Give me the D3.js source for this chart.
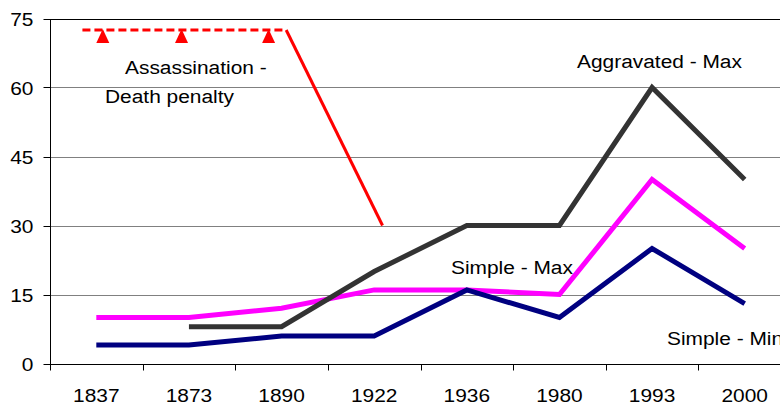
<!DOCTYPE html>
<html>
<head>
<meta charset="utf-8">
<script src="https://cdnjs.cloudflare.com/ajax/libs/d3/7.8.5/d3.min.js"></script>
<style>
  html, body { margin: 0; padding: 0; background: #fff; }
  svg { display: block; }
  text { font-family: "Liberation Sans", Arial, sans-serif; fill: #000; }
</style>
</head>
<body>
<svg id="chart" width="780" height="406"></svg>
<script>
// ---- data ----
const categories = ["1837", "1873", "1890", "1922", "1936", "1980", "1993", "2000"];
const simpleMax = [10, 10, 12, 16, 16, 15, 40, 25];
const simpleMin = [4, 4, 6, 6, 16, 10, 25, 13];
const aggravatedMax = [null, 8, 8, 20, 30, 30, 60, 40];
// Assassination annotation line, positions given as (fractional) category index
const assassIdx = [-0.15, 2.05, 3.09];
const assassVals = [72.5, 72.5, 30];
const triangleIdx = [0.07, 0.92, 1.86];
const triangleVal = 72.5;
const yTicks = [0, 15, 30, 45, 60, 75];

// ---- layout ----
const svg = d3.select("#chart");
const mLeft = 50, mRight = 791, mTop = 18.5, mBottom = 363.5;
const FS = 19, SX = 1.1;

const x = d3.scaleBand().domain(categories).range([mLeft, mRight]).paddingInner(0).paddingOuter(0);
const step = x.step();
const xIdx = d3.scaleLinear().domain([0, 1]).range([mLeft + step / 2, mLeft + step * 1.5]);
const y = d3.scaleLinear().domain([0, 75]).range([mBottom, mTop]);
const cx = c => x(c) + x.bandwidth() / 2;

// gridlines
svg.append("g").selectAll("line").data(yTicks.filter(d => d > 0)).join("line")
  .attr("x1", mLeft).attr("x2", 780)
  .attr("y1", d => Math.round(y(d)) + 0.5).attr("y2", d => Math.round(y(d)) + 0.5)
  .attr("stroke", d => d === 75 ? "#000" : "#808080").attr("stroke-width", 1);

// y axis
const yAxis = svg.append("g").attr("transform", `translate(${mLeft + 0.5},0)`);
yAxis.append("line").attr("y1", Math.round(y(75)) + 0.5).attr("y2", Math.round(y(0)) + 0.5)
  .attr("stroke", "#000");
yAxis.selectAll("line.tk").data(yTicks).join("line").attr("class", "tk")
  .attr("x1", -7).attr("x2", 0)
  .attr("y1", d => Math.round(y(d)) + 0.5).attr("y2", d => Math.round(y(d)) + 0.5)
  .attr("stroke", "#000");
yAxis.selectAll("text").data(yTicks).join("text")
  .attr("transform", d => `translate(-17,${y(d) + 7}) scale(${SX},1)`)
  .attr("text-anchor", "end").attr("font-size", FS)
  .text(d => d);

// x axis
const xAxis = svg.append("g");
xAxis.append("line").attr("x1", mLeft).attr("x2", 780)
  .attr("y1", Math.round(y(0)) + 0.5).attr("y2", Math.round(y(0)) + 0.5).attr("stroke", "#000");
const bounds = d3.range(categories.length + 1).map(i => mLeft + i * step);
xAxis.selectAll("line.tk").data(bounds).join("line").attr("class", "tk")
  .attr("x1", d => Math.round(d) + 0.5).attr("x2", d => Math.round(d) + 0.5)
  .attr("y1", Math.round(y(0)) + 0.5).attr("y2", Math.round(y(0)) + 6.5)
  .attr("stroke", "#000");
xAxis.selectAll("text").data(categories).join("text")
  .attr("transform", d => `translate(${cx(d)},402) scale(${SX},1)`)
  .attr("text-anchor", "middle").attr("font-size", FS)
  .text(d => d);

// series lines
function seriesLine(vals, color, width) {
  const pts = vals.map((v, i) => ({ c: categories[i], v })).filter(p => p.v != null);
  const line = d3.line().x(p => cx(p.c)).y(p => y(p.v));
  svg.append("path").datum(pts).attr("d", line)
    .attr("fill", "none").attr("stroke", color).attr("stroke-width", width)
    .attr("stroke-linejoin", "miter").attr("stroke-linecap", "butt");
}
seriesLine(simpleMax, "#FF00FF", 5);
seriesLine(simpleMin, "#000080", 5);
seriesLine(aggravatedMax, "#333333", 5);

// assassination line: dashed then solid
const aPts = assassIdx.map((d, i) => [xIdx(d), y(assassVals[i])]);
svg.append("path").attr("d", d3.line()(aPts.slice(0, 2)))
  .attr("fill", "none").attr("stroke", "#FF0000").attr("stroke-width", 3)
  .attr("stroke-dasharray", "8,4");
svg.append("path").attr("d", d3.line()(aPts.slice(1)))
  .attr("fill", "none").attr("stroke", "#FF0000").attr("stroke-width", 3)
  .attr("stroke-linejoin", "miter");
svg.append("g").selectAll("path").data(triangleIdx).join("path")
  .attr("transform", d => `translate(${xIdx(d)},${y(triangleVal)})`)
  .attr("d", "M0,-1 L6.5,13 L-6.5,13 Z")
  .attr("fill", "#FF0000");

// annotations
const notes = [
  { t: "Assassination -", x: 125, y: 74 },
  { t: "Death penalty", x: 105, y: 103 },
  { t: "Aggravated - Max", x: 577, y: 68 },
  { t: "Simple - Max", x: 451, y: 274 },
  { t: "Simple - Min", x: 667, y: 345 }
];
svg.append("g").selectAll("text").data(notes).join("text")
  .attr("transform", d => `translate(${d.x},${d.y}) scale(${SX},1)`)
  .attr("font-size", FS)
  .text(d => d.t);
</script>
</body>
</html>
